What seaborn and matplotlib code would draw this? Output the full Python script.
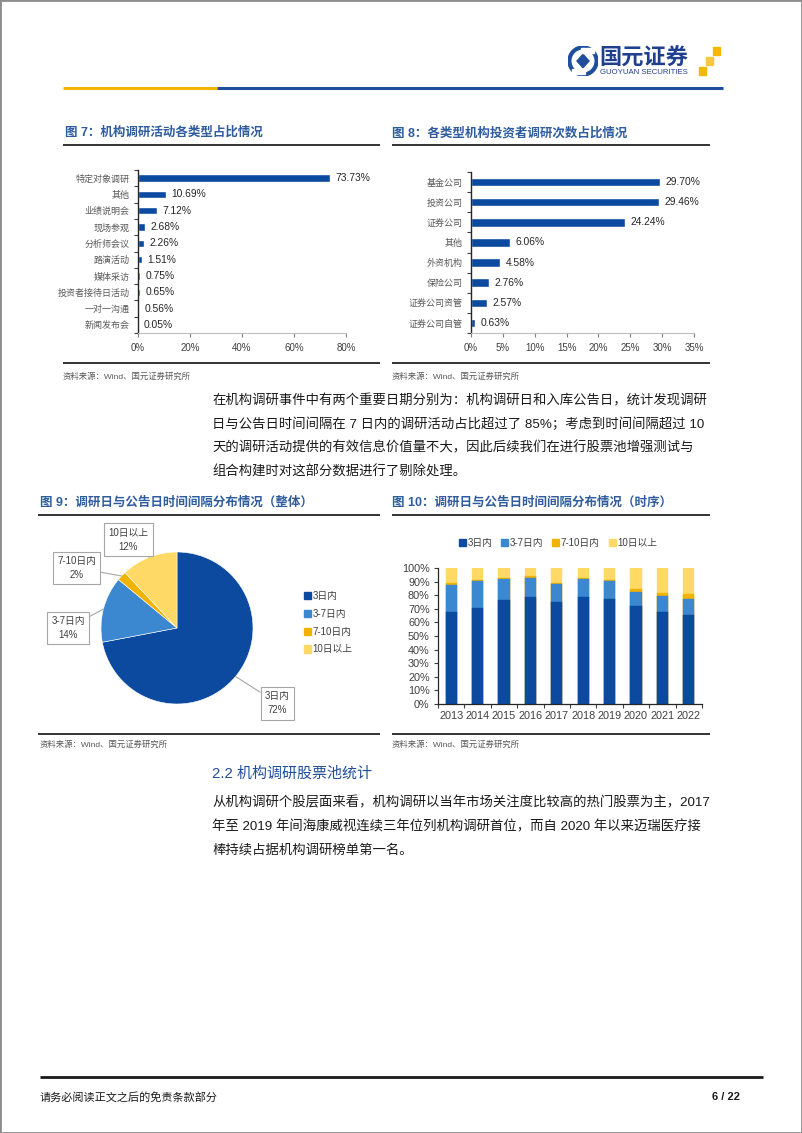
import numpy as np
import pandas as pd
import matplotlib
matplotlib.use("Agg")
import matplotlib.pyplot as plt
import seaborn as sns
from matplotlib.lines import Line2D
from matplotlib.patches import Rectangle, Circle, Polygon

# ---------------- data ----------------
cats7 = ["特定对象调研", "其他", "业绩说明会", "现场参观", "分析师会议",
         "路演活动", "媒体采访", "投资者接待日活动", "一对一沟通", "新闻发布会"]
vals7 = [73.73, 10.69, 7.12, 2.68, 2.26, 1.51, 0.75, 0.65, 0.56, 0.05]
xt7 = [0, 20, 40, 60, 80]

cats8 = ["基金公司", "投资公司", "证券公司", "其他", "外资机构",
         "保险公司", "证券公司资管", "证券公司自管"]
vals8 = [29.70, 29.46, 24.24, 6.06, 4.58, 2.76, 2.57, 0.63]
xt8 = [0, 5, 10, 15, 20, 25, 30, 35]

pie_names = ["3日内", "3-7日内", "7-10日内", "10日以上"]
pie_vals = [72, 14, 2, 12]

years = ["2013", "2014", "2015", "2016", "2017", "2018", "2019", "2020", "2021", "2022"]
s_3 = [67.3, 70.7, 76.8, 78.5, 75.3, 78.5, 77.5, 71.9, 67.5, 65.3]
s_37 = [20.5, 19.8, 15.4, 14.5, 12.7, 13.7, 13.0, 10.5, 11.7, 12.2]
s_710 = [1.5, 1.0, 0.8, 1.0, 1.0, 0.8, 1.0, 2.0, 2.5, 3.2]
s_10 = [100 - a - b - c for a, b, c in zip(s_3, s_37, s_710)]
yt10 = list(range(0, 101, 10))

# ---------------- style ----------------
DARK = "#0B4A9E"
MID = "#3B87D0"
ORANGE = "#F2B300"
LIGHT = "#FFD966"
TITLE_C = "#2E5C9E"
GRAY = "#595959"

W, H = 802, 1133
sns.set_theme(style="white")
plt.rcParams["font.family"] = ["Liberation Sans", "Noto Sans CJK SC", "DejaVu Sans"]
plt.rcParams["axes.unicode_minus"] = False

fig = plt.figure(figsize=(W / 100, H / 100), dpi=100)
fig.patch.set_facecolor("white")


def axpx(l, t, r, b):
    return fig.add_axes([l / W, 1 - b / H, (r - l) / W, (b - t) / H])


def ftext(x, y, s, **kw):
    return fig.text(x / W, 1 - y / H, s, **kw)


def hline(x1, x2, y, color, lw):
    fig.add_artist(Line2D([x1 / W, x2 / W], [1 - y / H, 1 - y / H],
                          color=color, lw=lw, transform=fig.transFigure,
                          solid_capstyle="butt"))


# page border
fig.add_artist(Rectangle((0, 0), 1, 1, transform=fig.transFigure, fill=False,
                         ec="#8C8C8C", lw=2))

# ---------------- header ----------------
hline(63, 217, 88, ORANGE, 2.2)
hline(217, 723, 88, "#1F4E9C", 2.2)

axl = axpx(568, 45, 598, 77)
axl.set_xlim(-1, 1)
axl.set_ylim(-1, 1)
axl.set_aspect("equal")
axl.axis("off")
axl.add_patch(Circle((0, 0), 1.0, color="#1F4E9C"))
axl.add_patch(Circle((0, 0), 0.72, color="white"))
axl.add_patch(Polygon([(0, 0.45), (0.4, 0), (0, -0.45), (-0.4, 0)], color="#1F4E9C"))
axl.add_patch(Rectangle((-0.15, 0.55), 0.9, 0.3, color="white"))
axl.add_patch(Rectangle((-0.75, -0.85), 0.9, 0.3, color="white"))
ftext(599, 58, "国元证券", fontsize=16, fontweight="bold", color="#1F3F8F",
      va="center", ha="left", family=["Noto Sans CJK SC"])
ftext(600, 73, "GUOYUAN SECURITIES", fontsize=5.6, color="#1F3F8F", va="center",
      ha="left")
for (cx, cy, c) in [(716, 51, "#F5B800"), (709, 61, "#F7C744"), (702, 71, "#F5B800")]:
    fig.add_artist(Rectangle(((cx - 3.5) / W, 1 - (cy + 3.5) / H), 7 / W, 7 / H,
                             transform=fig.transFigure, color=c))

# ---------------- titles & frame lines ----------------
ftext(65, 133, "图 7：机构调研活动各类型占比情况", fontsize=9, fontweight="bold",
      color=TITLE_C, va="center")
ftext(392, 133, "图 8：各类型机构投资者调研次数占比情况", fontsize=9, fontweight="bold",
      color=TITLE_C, va="center")
hline(63, 380, 145, "#333333", 1.4)
hline(392, 710, 145, "#333333", 1.4)
hline(63, 380, 363, "#333333", 1.4)
hline(392, 710, 363, "#333333", 1.4)
ftext(63, 377, "资料来源：Wind、国元证券研究所", fontsize=6, color=GRAY, va="center")
ftext(392, 377, "资料来源：Wind、国元证券研究所", fontsize=6, color=GRAY, va="center")

ftext(40, 503, "图 9：调研日与公告日时间间隔分布情况（整体）", fontsize=9,
      fontweight="bold", color=TITLE_C, va="center")
ftext(392, 503, "图 10：调研日与公告日时间间隔分布情况（时序）", fontsize=9,
      fontweight="bold", color=TITLE_C, va="center")
hline(38, 380, 515, "#333333", 1.4)
hline(392, 710, 515, "#333333", 1.4)
hline(38, 380, 734, "#333333", 1.4)
hline(392, 710, 734, "#333333", 1.4)
ftext(40, 745, "资料来源：Wind、国元证券研究所", fontsize=6, color=GRAY, va="center")
ftext(392, 745, "资料来源：Wind、国元证券研究所", fontsize=6, color=GRAY, va="center")


# ---------------- horizontal bar charts ----------------
def hbar(ax, cats, vals, xt, xmax, bw):
    df = pd.DataFrame({"cat": cats, "val": vals})
    sns.barplot(data=df, x="val", y="cat", orient="h", color=DARK, saturation=1,
                width=bw, ax=ax)
    ax.set_xlim(0, xmax)
    ax.set_ylim(len(cats) - 0.5, -0.5)
    ax.set_xticks(xt)
    ax.set_xticklabels([f"{v}%" for v in xt], fontsize=7, color="#404040")
    ax.set_yticks(range(len(cats)))
    ax.set_yticklabels(cats, fontsize=6.5, color="#595959",
                       family=["Noto Sans CJK SC"])
    ax.set_yticks(np.arange(len(cats) + 1) - 0.5, minor=True)
    ax.tick_params(axis="y", which="major", length=0, pad=6)
    ax.tick_params(axis="y", which="minor", length=3, width=0.8, color="#404040",
                   direction="out", left=True)
    ax.tick_params(axis="x", which="major", length=3, width=0.8, color="#808080",
                   direction="out", bottom=True, pad=4)
    ax.set_xlabel("")
    ax.set_ylabel("")
    for s in ["top", "right"]:
        ax.spines[s].set_visible(False)
    ax.spines["left"].set_color("#262626")
    ax.spines["left"].set_linewidth(1.0)
    ax.spines["bottom"].set_color("#BFBFBF")
    ax.spines["bottom"].set_linewidth(0.8)
    ax.grid(False)
    for i, v in enumerate(vals):
        ax.annotate(f"{v:.2f}%", xy=(v, i), xytext=(4, 0), textcoords="offset points",
                    va="center", ha="left", fontsize=7.4, color="#262626")


ax7 = axpx(138, 170, 346, 333)
hbar(ax7, cats7, vals7, xt7, 80, 0.45)
ax8 = axpx(471, 172, 694, 333)
hbar(ax8, cats8, vals8, xt8, 35, 0.42)

# ---------------- body text ----------------
body_kw = dict(fontsize=9.6, color="#1A1A1A", va="center", ha="left")
para1 = ["在机构调研事件中有两个重要日期分别为：机构调研日和入库公告日，统计发现调研",
         "日与公告日时间间隔在 7 日内的调研活动占比超过了 85%；考虑到时间间隔超过 10",
         "天的调研活动提供的有效信息价值量不大，因此后续我们在进行股票池增强测试与",
         "组合构建时对这部分数据进行了剔除处理。"]
for k, line in enumerate(para1):
    ftext(212, 401 + 23.5 * k, line, **body_kw)

ftext(212, 774, "2.2 机构调研股票池统计", fontsize=10.8, color="#1F4E9C",
      va="center", ha="left")
para2 = ["从机构调研个股层面来看，机构调研以当年市场关注度比较高的热门股票为主，2017",
         "年至 2019 年间海康威视连续三年位列机构调研首位，而自 2020 年以来迈瑞医疗接",
         "棒持续占据机构调研榜单第一名。"]
for k, line in enumerate(para2):
    ftext(212, 803 + 23.5 * k, line, **body_kw)

# ---------------- pie ----------------
ax9 = axpx(101, 552, 253, 704)
pie_cols = [DARK, MID, ORANGE, LIGHT]
wedges, _ = ax9.pie(pie_vals, colors=pie_cols, startangle=90, counterclock=False,
                    radius=1, wedgeprops=dict(linewidth=0.4, edgecolor="white"))
ax9.set_xlim(-1, 1)
ax9.set_ylim(-1, 1)
ax9.set_aspect("equal")
ax9.axis("off")

box_pos = [(1.32, -0.99), (-1.43, 0.0), (-1.32, 0.79), (-0.64, 1.16)]
ang = 90.0
total = float(sum(pie_vals))
for name, v, bp in zip(pie_names, pie_vals, box_pos):
    span = v / total * 360
    mid = np.deg2rad(ang - span / 2)
    ang -= span
    edge = (np.cos(mid), np.sin(mid))
    ax9.annotate(f"{name}\n{v}%", xy=edge, xytext=bp, textcoords="data",
                 ha="center", va="center", fontsize=7, color="#404040",
                 linespacing=1.5, annotation_clip=False,
                 bbox=dict(boxstyle="square,pad=0.45", fc="white", ec="#A6A6A6",
                           lw=0.8),
                 arrowprops=dict(arrowstyle="-", color="#A6A6A6", lw=0.8,
                                 shrinkA=0, shrinkB=0))

pie_handles = [Rectangle((0, 0), 1, 1, color=c) for c in pie_cols]
fig.legend(pie_handles, pie_names, loc="upper left",
           bbox_to_anchor=(304 / W, 1 - 591 / H), frameon=False, fontsize=7,
           handlelength=0.75, handleheight=0.75, handletextpad=0.15,
           labelspacing=0.8, borderaxespad=0, borderpad=0, labelcolor="#404040")

# ---------------- stacked bars ----------------
ax10 = axpx(438, 568, 702, 704)
c1 = np.array(s_3)
c2 = c1 + np.array(s_37)
c3 = c2 + np.array(s_710)
c4 = c3 + np.array(s_10)
for cum, col in [(c4, LIGHT), (c3, ORANGE), (c2, MID), (c1, DARK)]:
    sns.barplot(x=years, y=cum, color=col, saturation=1, width=0.42, ax=ax10,
                edgecolor=col, linewidth=0.3)
ax10.set_ylim(0, 100)
ax10.set_xlim(-0.5, len(years) - 0.5)
ax10.set_yticks(yt10)
ax10.set_yticklabels([f"{v}%" for v in yt10], fontsize=7.8, color="#404040")
ax10.set_xticks(range(len(years)))
ax10.set_xticklabels(years, fontsize=7.8, color="#404040")
ax10.set_xticks(np.arange(len(years) + 1) - 0.5, minor=True)
ax10.tick_params(axis="x", which="major", length=0, pad=5)
ax10.tick_params(axis="x", which="minor", length=3, width=0.8, color="#404040",
                 direction="out", bottom=True)
ax10.tick_params(axis="y", which="major", length=3, width=0.8, color="#404040",
                 direction="out", left=True, pad=3)
ax10.set_xlabel("")
ax10.set_ylabel("")
ax10.grid(False)
for s in ["top", "right"]:
    ax10.spines[s].set_visible(False)
for s in ["left", "bottom"]:
    ax10.spines[s].set_color("#262626")
    ax10.spines[s].set_linewidth(0.9)

bar_handles = [Rectangle((0, 0), 1, 1, color=c) for c in pie_cols]
fig.legend(bar_handles, pie_names, loc="center",
           bbox_to_anchor=(558 / W, 1 - 543 / H), ncol=4, frameon=False,
           fontsize=7, handlelength=0.75, handleheight=0.75, handletextpad=0.15,
           columnspacing=0.9, borderaxespad=0, borderpad=0, labelcolor="#404040")

# ---------------- footer ----------------
hline(40, 763, 1077, "#1A1A1A", 2.0)
ftext(40, 1097, "请务必阅读正文之后的免责条款部分", fontsize=8, color="#1A1A1A",
      va="center", ha="left")
ftext(740, 1097, "6 / 22", fontsize=8, fontweight="bold", color="#1A1A1A",
      va="center", ha="right")

fig.savefig("out.png", dpi=100)
